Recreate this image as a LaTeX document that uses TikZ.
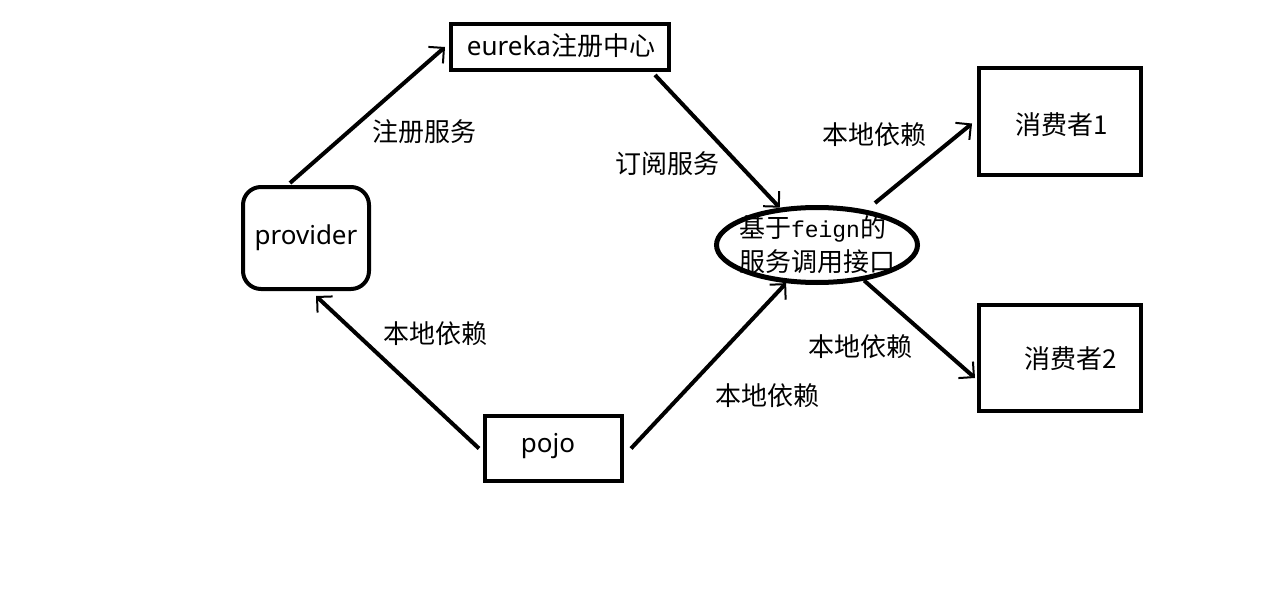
\documentclass[tikz,border=0pt]{standalone}
\usepackage{fontspec}
\setmainfont{Noto Sans}
\newfontfamily\cjk{Noto Sans CJK SC}
\newfontfamily\monof{Liberation Mono}
\usetikzlibrary{arrows.meta,shapes.geometric,calc}
\tikzset{
  box/.style={draw,line width=4pt,inner sep=0pt,font=\fontsize{26}{30}\selectfont},
  lbl/.style={font=\cjk\fontsize{26}{30}\selectfont,inner sep=0pt},
  conn/.style={line width=4pt,-{Straight Barb[length=11pt,width=22pt,line width=2pt]}},
}
\begin{document}
\begin{tikzpicture}[x=1pt,y=-1pt]
\useasboundingbox[fill=white] (0,0) rectangle (1269,607);
\node[box,minimum width=218pt,minimum height=46pt] (eu) at (560,47) {};
\node[font=\fontsize{26}{30}\selectfont,inner sep=0pt] at (561,46) {eureka{\cjk 注册中心}};
\node[box,rounded corners=18pt,minimum width=126pt,minimum height=102pt] (prov) at (306,238) {provider};
\node[box,minimum width=137pt,minimum height=65pt] (pojo) at (553.5,448.5) {};
\node[font=\fontsize{26}{30}\selectfont,inner sep=0pt] at (548,446) {pojo};
\node[draw,ellipse,line width=5pt,minimum width=201pt,minimum height=75pt,inner sep=0pt] (ell) at (817,245) {};
\node[font=\cjk\fontsize{26}{34}\selectfont,align=left,inner sep=0pt] at (817,245)
  {基于{\monof\fontsize{23}{34}\selectfont feign}的\\服务调用接口};
\node[box,minimum width=162pt,minimum height=107pt] (c1) at (1060,121.5) {};
\node[lbl] at (1062,125) {消费者1};
\node[box,minimum width=162pt,minimum height=106pt] (c2) at (1060,358) {};
\node[lbl] at (1071,359) {消费者2};

\draw[conn] ($(prov.north)+(-16,-2)$) -- ($(eu.west)+(-4,0)$);
\draw[conn] ($(eu.south)+(95,3)$) -- (ell.135);
\draw[conn] ($(ell.center)+(58,-42)$) -- ($(c1.west)+(-5,2)$);
\draw[conn] (ell.-37) -- ($(c2.west)+(-2,20)$);
\draw[conn] ($(pojo.west)+(-4,0)$) -- ($(prov.south)+(10,5)$);
\draw[conn] ($(pojo.east)+(7,0)$) -- (ell.231);

\node[lbl] at (424,132) {注册服务};
\node[lbl] at (667,164) {订阅服务};
\node[lbl] at (874,135) {本地依赖};
\node[lbl] at (860,347) {本地依赖};
\node[lbl] at (435,334) {本地依赖};
\node[lbl] at (767,396) {本地依赖};
\end{tikzpicture}
\end{document}
